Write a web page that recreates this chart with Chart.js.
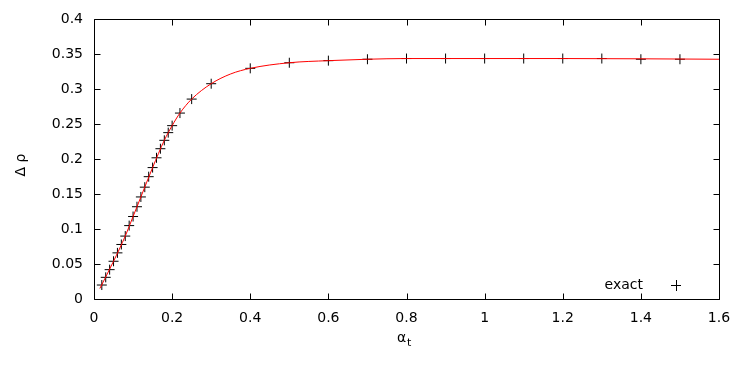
<!DOCTYPE html>
<html>
<head>
<meta charset="utf-8">
<script src="https://cdn.jsdelivr.net/npm/chart.js@4/dist/chart.umd.min.js"></script>
<style>
  body { margin: 0; background: #fff; }
  #wrap { width: 747px; height: 366px; }
</style>
</head>
<body>
<div id="wrap"><canvas id="rhoChart" width="747" height="366"></canvas></div>
<script>
// exact data points (alpha_t, delta rho)
const alphaT = [0.02, 0.03, 0.04, 0.05, 0.06, 0.07, 0.08, 0.09, 0.10, 0.11,
                0.12, 0.13, 0.14, 0.15, 0.16, 0.17, 0.18, 0.19, 0.20,
                0.22, 0.25, 0.30, 0.40, 0.50, 0.60, 0.70, 0.80, 0.90,
                1.00, 1.10, 1.20, 1.30, 1.40, 1.50];
const exactRho = [0.020, 0.031, 0.042, 0.054, 0.066, 0.078, 0.090, 0.105, 0.118, 0.132,
                  0.146, 0.160, 0.175, 0.188, 0.202, 0.215, 0.227, 0.238, 0.248,
                  0.266, 0.286, 0.308, 0.330, 0.338, 0.341, 0.343, 0.344, 0.344,
                  0.344, 0.344, 0.344, 0.344, 0.343, 0.343];

// red curve
const curveAlpha = [0.015, 0.05, 0.08, 0.10, 0.12, 0.15, 0.18, 0.20, 0.22, 0.25,
                    0.30, 0.35, 0.40, 0.50, 0.60, 0.70, 0.80, 1.00, 1.20, 1.60];
const curveRho = [0.015, 0.054, 0.090, 0.118, 0.146, 0.188, 0.227, 0.248, 0.266, 0.286,
                  0.308, 0.322, 0.330, 0.338, 0.341, 0.343, 0.344, 0.344, 0.344, 0.343];

const xTicks = [0, 0.2, 0.4, 0.6, 0.8, 1, 1.2, 1.4, 1.6];
const yTicks = [0, 0.05, 0.1, 0.15, 0.2, 0.25, 0.3, 0.35, 0.4];

const FONT = 'DejaVu Sans';

// gnuplot style frame, inward ticks, legend and axis titles
const gnuplotFrame = {
    id: 'gnuplotFrame',
    afterDatasetsDraw(chart) {
        const { ctx, chartArea: a, scales: { x, y } } = chart;
        const L = Math.round(a.left) + 0.5, R = Math.round(a.right) + 0.5;
        const T = Math.round(a.top) + 0.5, B = Math.round(a.bottom) + 0.5;
        const tick = 6;
        ctx.save();
        ctx.strokeStyle = '#000';
        ctx.lineWidth = 1;
        ctx.beginPath();
        ctx.rect(L, T, R - L, B - T);
        xTicks.forEach(v => {
            const px = Math.round(x.getPixelForValue(v)) + 0.5;
            ctx.moveTo(px, B); ctx.lineTo(px, B - tick);
            ctx.moveTo(px, T); ctx.lineTo(px, T + tick);
        });
        yTicks.forEach(v => {
            const py = Math.round(y.getPixelForValue(v)) + 0.5;
            ctx.moveTo(L, py); ctx.lineTo(L + tick, py);
            ctx.moveTo(R, py); ctx.lineTo(R - tick, py);
        });
        ctx.stroke();

        // legend
        ctx.fillStyle = '#000';
        ctx.font = '14px "' + FONT + '"';
        ctx.textAlign = 'right';
        ctx.textBaseline = 'middle';
        ctx.fillText('exact', 643, 285);
        ctx.beginPath();
        ctx.moveTo(671, 285.5); ctx.lineTo(681, 285.5);
        ctx.moveTo(676.5, 280); ctx.lineTo(676.5, 291);
        ctx.stroke();

        // y title
        ctx.save();
        ctx.translate(21, 165);
        ctx.rotate(-Math.PI / 2);
        ctx.textAlign = 'center';
        ctx.fillText('Δ ρ', 0, 0);
        ctx.restore();

        // x title with subscript
        ctx.textAlign = 'left';
        ctx.font = '14px "' + FONT + '"';
        ctx.fillText('α', 397, 338);
        ctx.font = '11px "' + FONT + '"';
        ctx.fillText('t', 407, 343);
        ctx.restore();
    }
};

new Chart(document.getElementById('rhoChart'), {
    type: 'scatter',
    data: {
        datasets: [{
            label: 'curve',
            type: 'line',
            data: curveAlpha.map((a, i) => ({ x: a, y: curveRho[i] })),
            borderColor: '#ff0000',
            borderWidth: 1,
            pointRadius: 0,
            fill: false,
            cubicInterpolationMode: 'monotone'
        }, {
            label: 'exact',
            data: alphaT.map((a, i) => ({ x: a, y: exactRho[i] })),
            pointStyle: 'cross',
            pointRadius: 5,
            borderColor: '#000',
            backgroundColor: '#000',
            borderWidth: 1
        }]
    },
    options: {
        responsive: false,
        animation: false,
        layout: { padding: { top: 19, right: 28, left: 0, bottom: 0 } },
        scales: {
            x: {
                type: 'linear',
                min: 0, max: 1.6,
                grid: { display: false, drawTicks: false },
                border: { display: false },
                afterBuildTicks: s => { s.ticks = xTicks.map(v => ({ value: v })); },
                afterFit: s => { s.height = 67; },
                ticks: {
                    padding: 11,
                    color: '#000',
                    font: { family: FONT, size: 14 },
                    maxRotation: 0,
                    callback: v => String(v)
                }
            },
            y: {
                type: 'linear',
                min: 0, max: 0.4,
                grid: { display: false, drawTicks: false },
                border: { display: false },
                afterBuildTicks: s => { s.ticks = yTicks.map(v => ({ value: v })); },
                afterFit: s => { s.width = 94; },
                ticks: {
                    padding: 11,
                    color: '#000',
                    font: { family: FONT, size: 14 },
                    callback: v => String(v)
                }
            }
        },
        plugins: {
            legend: { display: false },
            tooltip: { enabled: false }
        }
    },
    plugins: [gnuplotFrame]
});
</script>
</body>
</html>
